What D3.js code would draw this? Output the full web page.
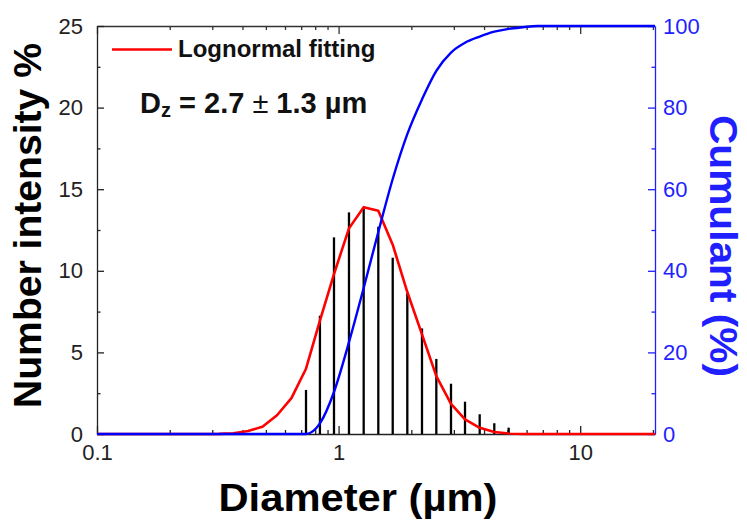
<!DOCTYPE html>
<html>
<head>
<meta charset="utf-8">
<script src="https://cdn.jsdelivr.net/npm/d3@7"></script>
<style>
body{margin:0;background:#fff;}
text{font-family:'Liberation Sans',Arial,sans-serif;}
</style>
</head>
<body>
<script>
// measured size bins (um) and number intensity (%)
var binDiameter=[0.733,0.837,0.957,1.104,1.270,1.460,1.675,1.925,2.214,2.538,2.919,3.336,3.837,4.410,5.058];
var binIntensity=[2.70,7.25,12.05,13.58,13.83,12.70,10.80,8.62,6.47,4.60,3.08,1.98,1.21,0.66,0.39];

// lognormal fit curve
var fitDiameter=[0.1,0.320,0.367,0.422,0.484,0.556,0.638,0.733,0.837,0.957,1.104,1.270,1.460,1.675,1.925,2.214,2.538,2.919,3.336,3.837,4.410,5.058,5.798,20.4];
var fitValue=[0,0.01,0.05,0.18,0.45,1.15,2.2,4.0,6.95,9.8,12.6,13.9,13.68,11.6,8.7,6.1,3.55,1.85,0.9,0.38,0.12,0.03,0,0];

// cumulant curve (%)
var cumDiameter=[0.1,0.733,0.837,0.957,1.104,1.270,1.460,1.675,1.925,2.214,2.538,2.919,3.336,3.837,4.410,5.058,5.798,6.64,20.4];
var cumValue=[0,0,2.6,10.3,22.5,35.8,49.5,62.5,73.5,82,89,93.5,95.9,97.4,98.6,99.3,99.7,100,100];

var xMajor=[0.1,1,10];
var xLabels=['0.1','1','10'];
var xMinor=[0.2,0.3,0.4,0.5,0.6,0.7,0.8,0.9,2,3,4,5,6,7,8,9,20];
var yMajor=[0,5,10,15,20,25];
var yMinor=[2.5,7.5,12.5,17.5,22.5];
var y2Major=[0,20,40,60,80,100];
var y2Minor=[10,30,50,70,90];

var width=747;
var height=520;
var plotLeft=97,plotRight=655,plotTop=26,plotBottom=434;
var blue='#1f1fff';

var svg=d3.select('body')
.append('svg')
.attr('width',width)
.attr('height',height);

var x=d3.scaleLog().domain([0.1,20.4]).range([plotLeft,plotRight]);
var y=d3.scaleLinear().domain([0,25]).range([plotBottom,plotTop]);
var y2=d3.scaleLinear().domain([0,100]).range([plotBottom,plotTop]);

function styleAxis(g,color){
    g.attr('color',color);
    g.selectAll('text')
    .style('font-size','22px')
    .style('font-family',"'Liberation Sans',Arial,sans-serif");
    g.selectAll('path,line').attr('stroke-width',1.3);
}

// bottom axis
svg.append('g')
.attr('transform','translate(0,'+plotBottom+')')
.call(d3.axisBottom(x).tickValues(xMajor).tickFormat((d,i)=>xLabels[i]).tickSize(-8).tickSizeOuter(0).tickPadding(10))
.call(g=>styleAxis(g,'#222'));
svg.append('g')
.attr('transform','translate(0,'+plotBottom+')')
.call(d3.axisBottom(x).tickValues(xMinor.filter(d=>d<20.4)).tickFormat('').tickSize(-4).tickSizeOuter(0))
.call(g=>styleAxis(g,'#222'))
.call(g=>g.select('.domain').remove());

// top axis
svg.append('g')
.attr('transform','translate(0,'+plotTop+')')
.call(d3.axisTop(x).tickValues(xMajor).tickFormat('').tickSize(-8).tickSizeOuter(0))
.call(g=>styleAxis(g,'#333'));
svg.append('g')
.attr('transform','translate(0,'+plotTop+')')
.call(d3.axisTop(x).tickValues(xMinor.filter(d=>d<20.4)).tickFormat('').tickSize(-4).tickSizeOuter(0))
.call(g=>styleAxis(g,'#333'))
.call(g=>g.select('.domain').remove());

// left axis
svg.append('g')
.attr('transform','translate('+plotLeft+',0)')
.call(d3.axisLeft(y).tickValues(yMajor).tickSize(-7).tickSizeOuter(0).tickPadding(14))
.call(g=>styleAxis(g,'#222'));
svg.append('g')
.attr('transform','translate('+plotLeft+',0)')
.call(d3.axisLeft(y).tickValues(yMinor).tickFormat('').tickSize(-3.5).tickSizeOuter(0))
.call(g=>styleAxis(g,'#222'))
.call(g=>g.select('.domain').remove());

// right axis
svg.append('g')
.attr('transform','translate('+plotRight+',0)')
.call(d3.axisRight(y2).tickValues(y2Major).tickSize(-7).tickSizeOuter(0).tickPadding(8))
.call(g=>styleAxis(g,blue));
svg.append('g')
.attr('transform','translate('+plotRight+',0)')
.call(d3.axisRight(y2).tickValues(y2Minor).tickFormat('').tickSize(-3.5).tickSizeOuter(0))
.call(g=>styleAxis(g,blue))
.call(g=>g.select('.domain').remove());

// bars
svg.append('g')
.selectAll('line')
.data(binDiameter)
.enter()
.append('line')
.attr('x1',d=>x(d))
.attr('x2',d=>x(d))
.attr('y1',y(0))
.attr('y2',(d,i)=>y(binIntensity[i]))
.attr('stroke','#000')
.attr('stroke-width',2.3);

// lognormal fitting
var fitLine=d3.line()
.x((d,i)=>x(fitDiameter[i]))
.y(d=>y(d));
svg.append('path')
.datum(fitValue)
.attr('d',fitLine)
.attr('fill','none')
.attr('stroke','#ff0000')
.attr('stroke-width',2.6)
.attr('stroke-linejoin','round');

// cumulant
var cumLine=d3.line()
.x((d,i)=>x(cumDiameter[i]))
.y(d=>y2(d))
.curve(d3.curveMonotoneX);
svg.append('path')
.datum(cumValue)
.attr('d',cumLine)
.attr('fill','none')
.attr('stroke','#0000ff')
.attr('stroke-width',2.4);

// legend
svg.append('line')
.attr('x1',112).attr('x2',172)
.attr('y1',49.5).attr('y2',49.5)
.attr('stroke','#ff0000')
.attr('stroke-width',2.6);
svg.append('text')
.attr('x',178).attr('y',57)
.style('font-size','24px')
.style('font-weight','bold')
.attr('fill','#111')
.text('Lognormal fitting');

var dz=svg.append('text')
.attr('x',140).attr('y',112.5)
.style('font-size','29px')
.style('font-weight','bold')
.attr('fill','#111');
dz.append('tspan').text('D');
dz.append('tspan').attr('dy',4).style('font-size','20px').text('z');
dz.append('tspan').attr('dy',-4).text(' = 2.7 ');
dz.append('tspan').style('font-weight','normal').text('±');
dz.append('tspan').text(' 1.3 µm');

// axis titles
svg.append('text')
.attr('x',358).attr('y',511)
.attr('text-anchor','middle')
.attr('textLength',279)
.attr('lengthAdjust','spacingAndGlyphs')
.style('font-size','38px')
.style('font-weight','bold')
.attr('fill','#000')
.text('Diameter (µm)');

svg.append('text')
.attr('transform','translate(41,225.5) rotate(-90)')
.attr('text-anchor','middle')
.attr('textLength',365)
.attr('lengthAdjust','spacingAndGlyphs')
.style('font-size','38px')
.style('font-weight','bold')
.attr('fill','#000')
.text('Number intensity %');

svg.append('text')
.attr('transform','translate(710,246) rotate(90)')
.attr('text-anchor','middle')
.attr('textLength',262)
.attr('lengthAdjust','spacingAndGlyphs')
.style('font-size','38px')
.style('font-weight','bold')
.attr('fill',blue)
.text('Cumulant (%)');
</script>
</body>
</html>
